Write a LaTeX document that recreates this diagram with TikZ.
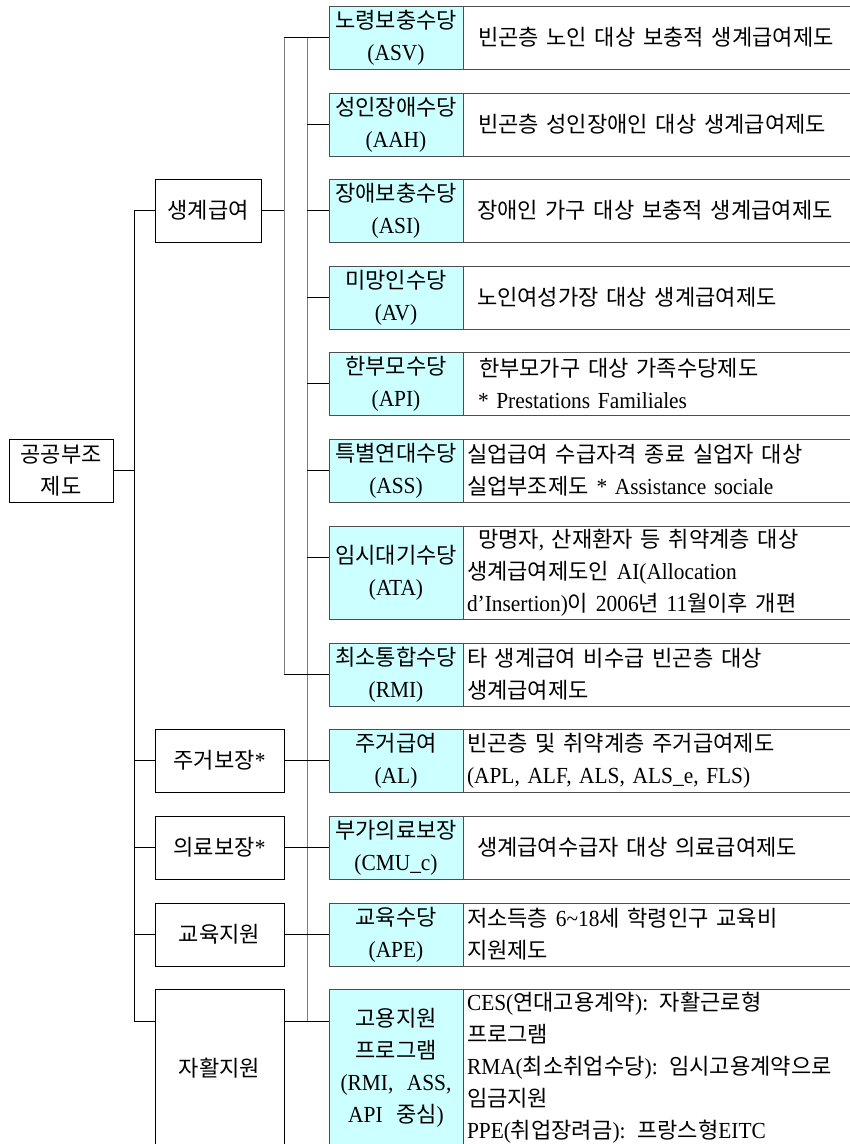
\documentclass[tikz,border=0pt]{standalone}
\usepackage{fontspec}
\setmainfont{Liberation Serif}[FakeStretch=0.93, WordSpace=2.5]
\newfontfamily\krfont{Noto Sans CJK KR}[Scale=0.96, WordSpace=2.5]
\XeTeXinterchartokenstate=1
\newXeTeXintercharclass\KRclass
\count255="AC00
\loop
  \XeTeXcharclass\count255=\KRclass
  \ifnum\count255<"D7A3 \advance\count255 by 1
\repeat
\XeTeXinterchartoks 0 \KRclass = {\krfont}
\XeTeXinterchartoks 4095 \KRclass = {\krfont}
\XeTeXinterchartoks \KRclass 0 = {\rmfamily}
\XeTeXinterchartoks \KRclass 4095 = {\rmfamily}
\definecolor{cyanfill}{HTML}{CCFFFF}
\definecolor{boxgray}{HTML}{4D4D4D}
\definecolor{linegray}{HTML}{7F7F7F}
\tikzset{
  base/.style={font=\fontsize{23}{32}\selectfont, inner sep=0pt, outer sep=0pt},
  whitebox/.style={base, draw=black, line width=0.8pt, fill=white, align=center},
  cybox/.style={base, draw=boxgray, line width=0.8pt, fill=cyanfill, align=center, minimum width=134pt},
  descbox/.style={base, draw=boxgray, line width=0.8pt, anchor=west, text width=400pt, inner xsep=4pt, align=left, minimum width=408pt},
  hline/.style={draw=black, line width=0.8pt},
  vline/.style={draw=linegray, line width=1pt},
  vlinedark/.style={draw=black, line width=0.8pt},
}
\begin{document}
\begin{tikzpicture}[x=1pt,y=-1pt]
\useasboundingbox (0,0) rectangle (850,1144);
\clip (0,0) rectangle (850,1144);

% root and middle level
\node[whitebox, minimum width=104pt, minimum height=63pt] (root) at (61,470.5) {공공부조\\제도};
\node[whitebox, minimum width=106pt, minimum height=63pt] (m1) at (208,210.5) {생계급여};
\node[whitebox, minimum width=129pt, minimum height=63pt] (m2) at (219.5,760.5) {주거보장*};
\node[whitebox, minimum width=129pt, minimum height=63pt] (m3) at (219.5,847.5) {의료보장*};
\node[whitebox, minimum width=129pt, minimum height=63pt] (m4) at (219.5,934.5) {교육지원};
\node[whitebox, minimum width=129pt, minimum height=158pt] (m5) at (219.5,1068) {자활지원};

% cyan programme boxes
\node[cybox, minimum height=63pt] (c1) at (396,37.5) {노령보충수당\\(ASV)};
\node[cybox, minimum height=63pt] (c2) at (396,124.5) {성인장애수당\\(AAH)};
\node[cybox, minimum height=63pt] (c3) at (396,210.5) {장애보충수당\\(ASI)};
\node[cybox, minimum height=63pt] (c4) at (396,297.5) {미망인수당\\(AV)};
\node[cybox, minimum height=63pt] (c5) at (396,383.5) {한부모수당\\(API)};
\node[cybox, minimum height=63pt] (c6) at (396,470.5) {특별연대수당\\(ASS)};
\node[cybox, minimum height=93pt] (c7) at (396,572.5) {임시대기수당\\(ATA)};
\node[cybox, minimum height=63pt] (c8) at (396,674.5) {최소통합수당\\(RMI)};
\node[cybox, minimum height=63pt] (c9) at (396,760.5) {주거급여\\(AL)};
\node[cybox, minimum height=63pt] (c10) at (396,847.5) {부가의료보장\\(CMU\_c)};
\node[cybox, minimum height=63pt] (c11) at (396,934.5) {교육수당\\(APE)};
\node[cybox, minimum height=158pt] (c12) at (396,1068) {고용지원\\프로그램\\(RMI, ASS,\\API 중심)};

% description boxes
\node[descbox, minimum height=63pt] (d1) at (463,37.5) {\hspace*{11pt}빈곤층 노인 대상 보충적 생계급여제도};
\node[descbox, minimum height=63pt] (d2) at (463,124.5) {\hspace*{11pt}빈곤층 성인장애인 대상 생계급여제도};
\node[descbox, minimum height=63pt] (d3) at (463,210.5) {\hspace*{10pt}장애인 가구 대상 보충적 생계급여제도};
\node[descbox, minimum height=63pt] (d4) at (463,297.5) {\hspace*{10pt}노인여성가장 대상 생계급여제도};
\node[descbox, minimum height=63pt] (d5) at (463,383.5) {\hspace*{12pt}한부모가구 대상 가족수당제도\\\hspace*{11pt}* Prestations Familiales};
\node[descbox, minimum height=63pt] (d6) at (463,470.5) {실업급여 수급자격 종료 실업자 대상\\실업부조제도 * Assistance sociale};
\node[descbox, minimum height=93pt] (d7) at (463,572.5) {\hspace*{11pt}망명자, 산재환자 등 취약계층 대상\\생계급여제도인 AI(Allocation\\d’Insertion)이 2006년 11월이후 개편};
\node[descbox, minimum height=63pt] (d8) at (463,674.5) {타 생계급여 비수급 빈곤층 대상\\생계급여제도};
\node[descbox, minimum height=63pt] (d9) at (463,760.5) {빈곤층 및 취약계층 주거급여제도\\(APL, ALF, ALS, ALS\_e, FLS)};
\node[descbox, minimum height=63pt] (d10) at (463,847.5) {\hspace*{10pt}생계급여수급자 대상 의료급여제도};
\node[descbox, minimum height=63pt] (d11) at (463,934.5) {저소득층 6{\char"7E}18세 학령인구 교육비\\지원제도};
\node[descbox, minimum height=158pt] (d12) at (463,1068) {CES(연대고용계약): 자활근로형\\프로그램\\RMA(최소취업수당): 임시고용계약으로\\임금지원\\PPE(취업장려금): 프랑스형EITC};

% junction coordinates
\coordinate (jA1) at (134,210.5);
\coordinate (jA5) at (134,1021);
\coordinate (jB1) at (284,37.5);
\coordinate (jB8) at (284,674.5);
\coordinate (jB12) at (284,1021);
\coordinate (jC1) at (307,37.5);
\coordinate (jC7) at (307,557);
\coordinate (jC12) at (307,1021);

% vertical bars
\draw[vlinedark] (jA1) -- (jA5);
\draw[vline] (jB1) -- (jB8);
\draw[vline] (jC1) -- (jC12);

% connectors
\draw[hline] (root.east) -- (root.east -| jA1);
\draw[hline] (jA1) -- (m1.west);
\draw[hline] (m2.west -| jA1) -- (m2.west);
\draw[hline] (m3.west -| jA1) -- (m3.west);
\draw[hline] (m4.west -| jA1) -- (m4.west);
\draw[hline] (jA5) -- (jA5 -| m5.west);
\draw[hline] (m1.east) -- (m1.east -| jB1);
\draw[hline] (jB1) -- (c1.west);
\draw[hline] (jB8) -- (c8.west);
\draw[hline] (c2.west -| jC1) -- (c2.west);
\draw[hline] (c3.west -| jC1) -- (c3.west);
\draw[hline] (c4.west -| jC1) -- (c4.west);
\draw[hline] (c5.west -| jC1) -- (c5.west);
\draw[hline] (c6.west -| jC1) -- (c6.west);
\draw[hline] (jC7) -- (jC7 -| c7.west);
\draw[hline] (m2.east) -- (c9.west);
\draw[hline] (m3.east) -- (c10.west);
\draw[hline] (m4.east) -- (c11.west);
\draw[hline] (jB12) -- (jB12 -| c12.west);
\end{tikzpicture}
\end{document}
